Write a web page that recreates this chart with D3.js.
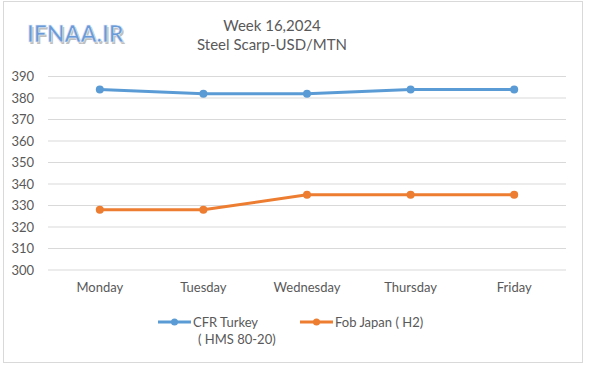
<!DOCTYPE html>
<html>
<head>
<meta charset="utf-8">
<script src="https://cdn.jsdelivr.net/npm/d3@7"></script>
<style>
  body { margin: 0; background: #fff; }
  text { font-family: Lato, "Open Sans", sans-serif; }
</style>
</head>
<body>
<script>
const WIDTH = 600
const HEIGHT = 365

// Données
const days = ["Monday", "Tuesday", "Wednesday", "Thursday", "Friday"]
const cfrTurkey = [384, 382, 382, 384, 384]
const fobJapan = [328, 328, 335, 335, 335]
const yTicks = [300, 310, 320, 330, 340, 350, 360, 370, 380, 390]

const svg = d3.select("body").append("svg")
    .attr("width", WIDTH)
    .attr("height", HEIGHT)

// Cadre
svg.append("rect")
    .attr("x", 3.5).attr("y", 1.5)
    .attr("width", 579).attr("height", 361)
    .attr("fill", "white")
    .attr("stroke", "#d9d9d9")

// Échelles
const x = d3.scaleBand().domain(days).range([48, 566])
const y = d3.scaleLinear().domain([300, 390]).range([270, 76.5])

// Grille
svg.append("g").selectAll("line")
    .data(yTicks)
    .enter().append("line")
    .attr("x1", 48).attr("x2", 566)
    .attr("y1", d => y(d)).attr("y2", d => y(d))
    .attr("stroke", "#d9d9d9")

// Axe Y
const yAxis = svg.append("g")
    .attr("transform", "translate(34,0)")
    .call(d3.axisLeft(y).tickValues(yTicks).tickSize(0).tickPadding(0))
yAxis.select(".domain").remove()
yAxis.selectAll("text").attr("fill", "#595959").style("font-size", "13px")

// Axe X
const xAxis = svg.append("g")
    .attr("transform", "translate(0,283)")
    .call(d3.axisBottom(x).tickSize(0).tickPadding(0))
xAxis.select(".domain").remove()
xAxis.selectAll("text").attr("fill", "#595959").style("font-size", "13px")

// Séries
const series = [
    { name: "cfr", values: cfrTurkey, color: "#5b9bd5" },
    { name: "fob", values: fobJapan, color: "#ed7d31" }
]

const line = d3.line()
    .x((d, i) => x(days[i]) + x.bandwidth() / 2)
    .y(d => y(d))

series.forEach(s => {
    svg.append("path")
        .datum(s.values)
        .attr("d", line)
        .attr("fill", "none")
        .attr("stroke", s.color)
        .attr("stroke-width", 3)
    svg.append("g").selectAll("circle")
        .data(s.values)
        .enter().append("circle")
        .attr("cx", (d, i) => x(days[i]) + x.bandwidth() / 2)
        .attr("cy", d => y(d))
        .attr("r", 4)
        .attr("fill", s.color)
})

// Titre
const title = svg.append("text")
    .attr("x", 272).attr("y", 31)
    .attr("text-anchor", "middle")
    .attr("fill", "#595959")
    .style("font-size", "15px")
title.append("tspan").attr("x", 272).text("Week 16,2024")
title.append("tspan").attr("x", 272).attr("dy", 19).text("Steel Scarp-USD/MTN")

// Logo
svg.append("text")
    .attr("x", 27).attr("y", 42)
    .attr("fill", "#bfbfbf")
    .attr("transform", "translate(1.5,1.5)")
    .style("font-size", "23px").style("font-weight", "bold")
    .text("IFNAA.IR")
svg.append("text")
    .attr("x", 27).attr("y", 42)
    .attr("fill", "#6a9ad8")
    .attr("stroke", "#e8f0fa").attr("stroke-width", 0.6)
    .style("font-size", "23px").style("font-weight", "bold")
    .text("IFNAA.IR")

// Légende
const legend = [
    { lines: ["CFR Turkey", "( HMS 80-20)"], color: "#5b9bd5", x: 158 },
    { lines: ["Fob Japan ( H2)"], color: "#ed7d31", x: 300 }
]
legend.forEach(l => {
    svg.append("line")
        .attr("x1", l.x).attr("x2", l.x + 33)
        .attr("y1", 322).attr("y2", 322)
        .attr("stroke", l.color).attr("stroke-width", 3)
    svg.append("circle")
        .attr("cx", l.x + 16.5).attr("cy", 322).attr("r", 3.5)
        .attr("fill", l.color)
    const t = svg.append("text")
        .attr("x", l.x + 35).attr("y", 327)
        .attr("fill", "#595959")
        .style("font-size", "13px")
    l.lines.forEach((s, i) => {
        t.append("tspan")
            .attr("x", l.x + 35 + (i > 0 ? 5 : 0))
            .attr("dy", i > 0 ? 17 : 0)
            .text(s)
    })
})
</script>
</body>
</html>
